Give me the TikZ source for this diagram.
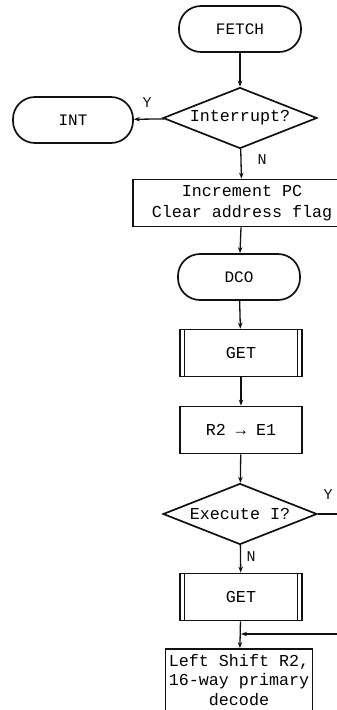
\documentclass[tikz,border=0pt]{standalone}
\usepackage{fontspec}
\setmonofont{Liberation Mono}
\usetikzlibrary{positioning,arrows.meta,shapes.geometric,calc}
\definecolor{ink}{HTML}{111111}
\tikzset{
  terminal/.style={rectangle, rounded corners=22pt, draw=ink, line width=1.7pt,
                   minimum width=122pt, minimum height=46pt, align=center,
                   font=\fontsize{16}{20}\selectfont\ttfamily},
  process/.style={rectangle, draw=ink, line width=1.7pt, minimum height=47pt,
                  align=center, font=\fontsize{16.7}{21}\selectfont\ttfamily},
  subproc/.style={process, minimum width=122pt,
                  path picture={
                    \draw[ink, line width=1.2pt]
                      ([xshift=4.5pt]path picture bounding box.north west) --
                      ([xshift=4.5pt]path picture bounding box.south west)
                      ([xshift=-4.5pt]path picture bounding box.north east) --
                      ([xshift=-4.5pt]path picture bounding box.south east);}},
  decision/.style={diamond, aspect=2.5, draw=ink, line width=1.7pt, inner sep=0pt,
                   minimum width=154pt, minimum height=61pt,
                   font=\fontsize{16.7}{20}\selectfont\ttfamily},
  flow/.style={-{Stealth[length=6pt,width=4.5pt]}, line width=1.3pt, draw=ink},
  link/.style={line width=1.3pt, draw=ink},
  yn/.style={font=\fontsize{15}{18}\selectfont\ttfamily, text=ink}
}

\begin{document}
\begin{tikzpicture}[x=1pt,y=-1pt]
\useasboundingbox (0,0) rectangle (337,710);
\clip (0,0) rectangle (337,710);
% main column
\node[terminal] (fetch) at (240,29) {FETCH};
\node[decision] (irq) at (240,118) {Interrupt?};
\node[terminal, minimum width=120pt] (int) at (73,120) {INT};
\node[process, minimum width=218pt] (incr) at (242,203) {Increment PC\\Clear address flag};
\node[terminal] (dco) at (239,277) {DCO};
\node[subproc] (getA) at (241,353) {GET};
\node[process, minimum width=122pt] (regmove) at (241,430) {R2 → E1};
\node[decision] (exec) at (240,514) {Execute I?};
\node[subproc] (getB) at (241,597) {GET};
\node[process, minimum width=146pt, minimum height=0pt, anchor=north,
      inner ysep=5.5pt, text depth=20pt,
      font=\fontsize{16.7}{19.5}\selectfont\ttfamily]
  (shift) at (239,648) {Left Shift R2,\\16-way primary\\decode};
% off-page ends
\coordinate (execout) at (345,514);
\coordinate (loopin) at (345,634);
\coordinate (merge) at (getB.south |- loopin);
% connectors
\draw[flow] (fetch) -- (irq);
\draw[flow] (irq) -- (int);
\draw[flow] (irq) -- (incr);
\draw[flow] (incr) -- (dco);
\draw[flow] (dco) -- (getA);
\draw[flow] (getA) -- (regmove);
\draw[flow] (regmove) -- (exec);
\draw[link] (exec.east) -- (execout);
\draw[flow] (exec) -- (getB);
\draw[flow] (getB) -- (shift);
\draw[flow] (loopin) -- (merge);
% branch labels
\node[yn] (irqY) at (147,103) {Y};
\node[yn] (irqN) at (262,160) {N};
\node[yn] (execY) at (328,495) {Y};
\node[yn] (execN) at (251,557) {N};
\end{tikzpicture}
\end{document}
